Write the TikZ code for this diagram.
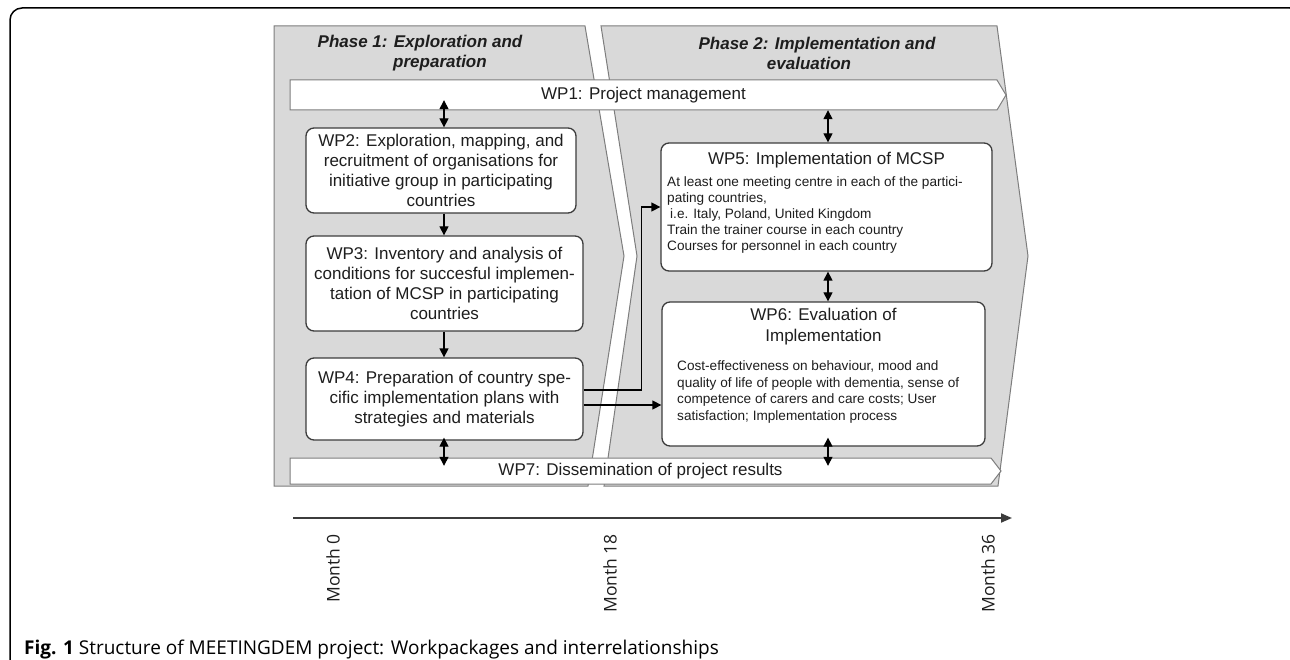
\documentclass[tikz,border=0pt]{standalone}
\usepackage{fontspec}
\setmainfont{Liberation Sans}
\newfontfamily\monthfont{Open Sans}
\usetikzlibrary{arrows.meta, positioning, calc}
\definecolor{phasegrey}{RGB}{217,217,217}
\definecolor{edgegrey}{RGB}{125,125,125}
\definecolor{boxedge}{RGB}{60,60,60}
\definecolor{inkgrey}{RGB}{30,30,30}

\tikzset{
  wpbox/.style={draw=boxedge, line width=1.3pt, rounded corners=8pt, fill=white, inner sep=0pt},
  wptext/.style={font=\fontsize{17}{20}\selectfont, align=center, text=inkgrey},
  bodytext/.style={font=\fontsize{13.6}{16}\selectfont, align=left, text=inkgrey, inner sep=0pt},
  phase/.style={fill=phasegrey, draw=edgegrey, line width=1pt},
  phasetitle/.style={font=\bfseries\itshape\fontsize{17}{20}\selectfont, align=center, text=inkgrey},
  bar/.style={fill=white, draw=edgegrey, line width=1pt},
  flow/.style={-{Triangle[length=9pt,width=9pt]}, line width=1.3pt},
  both/.style={{Triangle[length=9pt,width=9pt]}-{Triangle[length=9pt,width=9pt]}, line width=1.3pt},
  month/.style={font=\monthfont\fontsize{17.5}{20}\selectfont, rotate=90, anchor=east, inner sep=0pt, text=inkgrey},
}

\begin{document}
\begin{tikzpicture}[x=1pt, y=-1pt]
    \useasboundingbox (0,0) rectangle (1290,660);
    \clip (0,0) rectangle (1290,660);

    % Frame
    \draw[line width=1.5pt, rounded corners=12pt] (10,8) rectangle (1302,672);

    % Phases
    \path[phase] (274,26) -- (585,26) -- (624,256) -- (588,486) -- (274,486) -- cycle;
    \path[phase] (601,26) -- (997,26) -- (1028,256) -- (998,486) -- (604,486) -- (637,256) -- cycle;
    \node[phasetitle] (ph1) at (440,53) {Phase 1: Exploration and\hspace*{40pt}\\preparation};
    \node[phasetitle] (ph2) at (809,53) {\hspace*{16pt}Phase 2: Implementation and\\evaluation};

    % Bars
    \path[bar] (290,80) -- (997,80) -- (1006,95) -- (997,110) -- (290,110) -- cycle;
    \node[wptext, minimum width=707, minimum height=30, inner sep=0pt] (wp1) at (643.5,95) {WP1: Project management};
    \path[bar] (290,458) -- (991,458) -- (1001,471) -- (991,484) -- (290,484) -- cycle;
    \node[wptext, minimum width=701, minimum height=26, inner sep=0pt] (wp7) at (640.5,471) {WP7: Dissemination of project results};

    % Phase 1 packages
    \node[wpbox, wptext, minimum width=270, minimum height=85] (wp2) at (441,170.5)
        {WP2: Exploration, mapping, and\\recruitment of organisations for\\initiative group in participating\\countries};
    \node[wpbox, wptext, minimum width=277, minimum height=95] (wp3) at (444.5,283.5)
        {WP3: Inventory and analysis of\\conditions for succesful implemen-\\tation of MCSP in participating\\countries};
    \node[wpbox, wptext, minimum width=277, minimum height=82] (wp4) at (444.5,399)
        {WP4: Preparation of country spe-\\cific implementation plans with\\strategies and materials};

    % Phase 2 packages
    \node[wpbox, minimum width=331, minimum height=128] (wp5) at (826.5,207) {};
    \node[wptext] (wp5t) at (826.5,160) {WP5: Implementation of MCSP};
    \node[bodytext, anchor=west] (wp5b) at (667,215)
        {At least one meeting centre in each of the partici-\\pating countries,\\\hspace{3pt}i.e. Italy, Poland, United Kingdom\\Train the trainer course in each country\\Courses for personnel in each country};
    \node[wpbox, minimum width=323, minimum height=144] (wp6) at (823.5,374) {};
    \node[wptext, font=\fontsize{17}{21}\selectfont] (wp6t) at (823.5,326.5) {WP6: Evaluation of\\Implementation};
    \node[bodytext, font=\fontsize{13.6}{16.7}\selectfont, anchor=west] (wp6b) at (677,392)
        {Cost-effectiveness on behaviour, mood and\\quality of life of people with dementia, sense of\\competence of carers and care costs; User\\satisfaction; Implementation process};

    % Links
    \coordinate (colA) at (444,0);
    \coordinate (colB) at (828,0);
    \draw[both] ([yshift=10pt]colA |- wp1.south) -- (colA |- wp2.north);
    \draw[flow] (colA |- wp2.south) -- (colA |- wp3.north);
    \draw[flow] (colA |- wp3.south) -- (colA |- wp4.north);
    \draw[both] ([yshift=3pt]colA |- wp4.south) -- ([yshift=-8pt]colA |- wp7.north);
    \draw[both] (colB |- wp1.south) -- (colB |- wp5.north);
    \draw[both] (colB |- wp5.south) -- (colB |- wp6.north);
    \draw[both] ([yshift=9pt]colB |- wp6.south) -- ([yshift=-8pt]colB |- wp7.north);
    \draw[flow] ([yshift=9pt]wp4.east) -| ([xshift=-19pt]wp5.west) -- (wp5.west);
    \draw[flow] ([yshift=-6pt]wp4.east) -- ([yshift=-6pt]wp4.east -| wp6.west);

    % Time axis
    \coordinate (t0) at (293,518);
    \coordinate (t1) at (1012,518);
    \draw[-{Triangle[length=11pt,width=9pt]}, line width=1.8pt, boxedge] (t0) -- (t1);
    \foreach \x/\m [count=\i] in {333/0, 610/18, 988/36}
        \node[month] (m\i) at (\x,534) {Month \m};

    % Caption
    \node[anchor=west, inner sep=0pt, font=\monthfont\fontsize{19}{21}\selectfont] (cap) at (24,650)
        {\textbf{Fig. 1} Structure of MEETINGDEM project: Workpackages and interrelationships};
\end{tikzpicture}
\end{document}
